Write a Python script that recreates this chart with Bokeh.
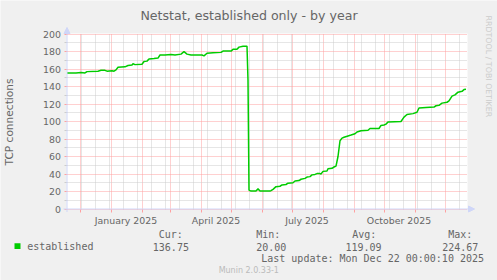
import math
import pandas as pd
from bokeh.plotting import figure
from bokeh.models import (Range1d, FixedTicker, DatetimeTickFormatter, Label, Arrow,
                          NormalHead, BoxAnnotation, ColumnDataSource)
from bokeh.embed import file_html
from bokeh.resources import INLINE

# ---------------- data ----------------
dates = [
    "2024-11-18", "2024-11-27", "2024-12-02", "2024-12-06", "2024-12-08", "2024-12-19",
    "2024-12-22", "2024-12-26", "2024-12-28", "2025-01-02", "2025-01-04", "2025-01-06",
    "2025-01-08", "2025-01-15", "2025-01-18", "2025-01-22", "2025-01-23", "2025-01-25",
    "2025-02-01", "2025-02-03", "2025-02-06", "2025-02-08", "2025-02-13", "2025-02-17",
    "2025-02-19", "2025-02-24", "2025-03-02", "2025-03-06", "2025-03-12", "2025-03-15",
    "2025-03-18", "2025-03-22", "2025-04-02", "2025-04-04", "2025-04-07", "2025-04-13",
    "2025-04-21", "2025-04-23", "2025-05-01", "2025-05-03", "2025-05-07", "2025-05-09",
    "2025-05-13", "2025-05-17", "2025-05-18", "2025-05-19", "2025-05-21", "2025-05-26",
    "2025-05-28", "2025-05-30", "2025-06-09", "2025-06-10", "2025-06-12", "2025-06-15",
    "2025-06-19", "2025-06-21", "2025-06-25", "2025-06-27", "2025-07-02", "2025-07-04",
    "2025-07-08", "2025-07-10", "2025-07-14", "2025-07-16", "2025-07-19", "2025-07-21",
    "2025-07-24", "2025-07-26", "2025-07-29", "2025-07-30", "2025-08-01", "2025-08-05",
    "2025-08-06", "2025-08-10", "2025-08-12", "2025-08-14", "2025-08-16", "2025-08-18",
    "2025-08-20", "2025-08-22", "2025-08-26", "2025-08-29", "2025-09-02", "2025-09-04",
    "2025-09-08", "2025-09-15", "2025-09-17", "2025-09-26", "2025-09-28", "2025-10-01",
    "2025-10-03", "2025-10-05", "2025-10-18", "2025-10-21", "2025-10-24", "2025-10-30",
    "2025-11-03", "2025-11-05", "2025-11-12", "2025-11-20", "2025-11-22", "2025-11-25",
    "2025-11-28", "2025-12-03", "2025-12-05", "2025-12-08", "2025-12-11", "2025-12-14",
    "2025-12-18", "2025-12-20", "2025-12-22",
]
established = [
    155.5, 155.5, 156.0, 155.5, 157.0, 157.5,
    158.5, 158.5, 157.5, 158.0, 157.5, 159.0,
    162.0, 162.5, 164.0, 164.5, 166.0, 165.0,
    165.5, 168.5, 169.0, 171.5, 172.0, 172.5,
    176.0, 176.0, 176.5, 176.0, 177.0, 179.8,
    177.0, 176.0, 176.0, 175.0, 178.0, 178.5,
    179.0, 180.5, 180.5, 182.5, 182.5, 185.0,
    186.0, 186.0, 147.0, 21.5, 20.5, 20.5,
    23.0, 20.5, 20.5, 21.0, 22.5, 25.5,
    26.0, 27.5, 28.0, 29.5, 30.0, 32.0,
    32.5, 34.0, 35.0, 36.5, 37.0, 39.0,
    39.5, 40.5, 40.5, 40.0, 43.0, 43.5,
    46.0, 46.5, 48.0, 49.0, 60.0, 78.0,
    81.0, 82.0, 83.5, 84.5, 86.0, 88.0,
    89.5, 90.0, 92.0, 92.0, 95.5, 96.0,
    97.0, 99.5, 100.0, 105.0, 108.0, 109.0,
    110.5, 115.5, 116.0, 116.5, 118.0, 118.5,
    121.0, 122.0, 123.5, 129.0, 130.5, 133.5,
    134.5, 136.5, 136.75,
]

x_start = "2024-11-18"
x_end = "2025-12-23"
y_min, y_max = 0, 200
y_ticks = [0, 20, 40, 60, 80, 100, 120, 140, 160, 180, 200]
y_minor_ticks = [10, 30, 50, 70, 90, 110, 130, 150, 170, 190]
month_starts = ["2024-12-01", "2025-01-01", "2025-02-01", "2025-03-01", "2025-04-01",
                "2025-05-01", "2025-06-01", "2025-07-01", "2025-08-01", "2025-09-01",
                "2025-10-01", "2025-11-01", "2025-12-01"]
week_marks = ["2024-12-02", "2024-12-16", "2024-12-30", "2025-01-13", "2025-01-27",
              "2025-02-10", "2025-02-24", "2025-03-10", "2025-03-24", "2025-04-07",
              "2025-04-21", "2025-05-05", "2025-05-19", "2025-06-02", "2025-06-16",
              "2025-06-30", "2025-07-14", "2025-07-28", "2025-08-11", "2025-08-25",
              "2025-09-08", "2025-09-22", "2025-10-06", "2025-10-20", "2025-11-03",
              "2025-11-17", "2025-12-15"]
x_label_dates = ["2025-01-16", "2025-04-16", "2025-07-16", "2025-10-16"]

legend_name = "established"
stat_heads = ["Cur:", "Min:", "Avg:", "Max:"]
stat_values = ["136.75", "20.00", "119.09", "224.67"]
title_text = "Netstat, established only - by year"
y_label = "TCP connections"
last_update = "Last update: Mon Dec 22 00:00:10 2025"
munin_text = "Munin 2.0.33-1"
watermark = "RRDTOOL / TOBI OETIKER"

# ---------------- styling ----------------
FONT = "#666666"
AXC = "#CFD6F8"
MGRID = "#FFA0A0"
GRID = "#CCCCCC"
GREEN = "#00CC00"
W, H = 497, 280
LEFT, TOP, PW, PH = 66.5, 33.5, 400, 175   # canvas area in pixels (pixel centres)
DESC = 0.24                                # text descent, as a fraction of font size
DASH = "1 1"


def ms(s):
    return pd.Timestamp(s).value // 10**6


t0, t1 = ms(x_start), ms(x_end)


def sx(px):
    return t0 + (px - LEFT) * (t1 - t0) / PW


def sy(py):
    return (TOP + PH - py) * (y_max - y_min) / PH + y_min


# frame covers the whole picture; the white canvas is drawn inside it
p = figure(width=W, height=H, x_axis_type="datetime",
           x_range=Range1d(sx(0), sx(W)), y_range=Range1d(sy(H), sy(0)),
           output_backend="svg", toolbar_location=None, min_border=0,
           min_border_left=0, min_border_right=0, min_border_top=0, min_border_bottom=0,
           background_fill_color="#F0F0F0", border_fill_color="#F0F0F0",
           outline_line_color=None)

p.add_layout(BoxAnnotation(left=sx(66), right=sx(467), bottom=sy(209), top=sy(33),
                           level="image", fill_color="#FFFFFF", fill_alpha=1,
                           line_color=None))

# grids
xg = p.xgrid[0]
xg.ticker = FixedTicker(ticks=[ms(d) for d in month_starts],
                        minor_ticks=[ms(d) for d in week_marks])
xg.bounds = (t0, t1)
xg.cross_bounds = (y_min, y_max)
xg.grid_line_color = MGRID
xg.grid_line_dash = DASH
xg.minor_grid_line_color = GRID
xg.minor_grid_line_dash = DASH

yg = p.ygrid[0]
yg.ticker = FixedTicker(ticks=y_ticks, minor_ticks=y_minor_ticks)
yg.bounds = (y_min, y_max)
yg.cross_bounds = (t0, t1)
yg.grid_line_color = MGRID
yg.grid_line_dash = DASH
yg.minor_grid_line_color = GRID
yg.minor_grid_line_dash = DASH

# x axis
xa = p.xaxis[0]
xa.fixed_location = y_min
xa.bounds = (t0, t1)
xa.ticker = FixedTicker(ticks=[ms(d) for d in x_label_dates],
                        minor_ticks=[ms(d) for d in month_starts])
fmt = "%B %Y"
xa.formatter = DatetimeTickFormatter(microseconds=fmt, milliseconds=fmt, seconds=fmt,
                                     minsec=fmt, minutes=fmt, hourmin=fmt, hours=fmt,
                                     days=fmt, months=fmt, years=fmt)
xa.axis_line_color = None
xa.major_tick_out = 0
xa.major_tick_in = 0
xa.major_tick_line_color = None
xa.minor_tick_out = 3
xa.minor_tick_in = 0
xa.minor_tick_line_color = MGRID
xa.major_label_standoff = 3
xa.major_label_text_font = "DejaVu Sans"
xa.major_label_text_font_size = "9.4px"
xa.major_label_text_color = FONT

# y axis
ya = p.yaxis[0]
ya.fixed_location = t0
ya.bounds = (y_min, y_max)
ya.ticker = FixedTicker(ticks=y_ticks, minor_ticks=y_minor_ticks)
ya.axis_line_color = None
ya.major_tick_out = 3
ya.major_tick_in = 0
ya.major_tick_line_color = MGRID
ya.minor_tick_out = 3
ya.minor_tick_in = 0
ya.minor_tick_line_color = GRID
ya.major_label_standoff = 3
ya.major_label_text_font = "DejaVu Sans"
ya.major_label_text_font_size = "9.4px"
ya.major_label_text_color = FONT
ya.axis_label = y_label
ya.axis_label_text_font = "DejaVu Sans"
ya.axis_label_text_font_size = "10.6px"
ya.axis_label_text_font_style = "normal"
ya.axis_label_text_color = FONT
ya.axis_label_standoff = 26

# data line
src = ColumnDataSource(dict(x=pd.to_datetime(dates), y=established))
p.line("x", "y", source=src, line_color=GREEN, line_width=1.5)

# axis lines with arrows
p.add_layout(Arrow(end=NormalHead(size=6, fill_color=AXC, line_color=AXC, line_width=1),
                   x_start=t0, y_start=sy(211.5), x_end=t0, y_end=sy(27),
                   line_color=AXC, line_width=1))
p.add_layout(Arrow(end=NormalHead(size=6, fill_color=AXC, line_color=AXC, line_width=1),
                   x_start=sx(63), y_start=y_min, x_end=sx(474), y_end=y_min,
                   line_color=AXC, line_width=1))


def lab(px, py, text, align="left", font="DejaVu Sans Mono", size=10.0, color=FONT):
    p.add_layout(Label(x=sx(px), y=sy(py - DESC * size), text=text, text_align=align,
                       text_baseline="alphabetic", text_font=font,
                       text_font_size=f"{size}px", text_color=color))


# title
lab(248.5, 18.3, title_text, align="center", font="DejaVu Sans", size=12.6)

# watermark
p.add_layout(Label(x=sx(488), y=sy(15), text=watermark, angle=-math.pi / 2,
                   text_align="left", text_baseline="middle", text_font="DejaVu Sans",
                   text_font_size="7.9px", text_color="#CCCCCC"))

# legend
p.add_layout(BoxAnnotation(left=sx(14), right=sx(20), top=sy(242.7), bottom=sy(248.5),
                           fill_color=GREEN, fill_alpha=1, line_color=None))

head_x = [158.3, 255.7, 351.7, 447.7]
val_x = [152.3, 255.7, 345.0, 441.7]
for hx, t in zip(head_x, stat_heads):
    lab(hx, 236.7, t)
lab(26.7, 248.7, legend_name)
for vx, t in zip(val_x, stat_values):
    lab(vx, 248.7, t)
lab(483.5, 260.6, last_update, align="right")
lab(248.3, 271.7, munin_text, align="center", font="DejaVu Sans", size=8.0, color="#BBBBBB")

open("out.html", "w").write(file_html(p, INLINE))
